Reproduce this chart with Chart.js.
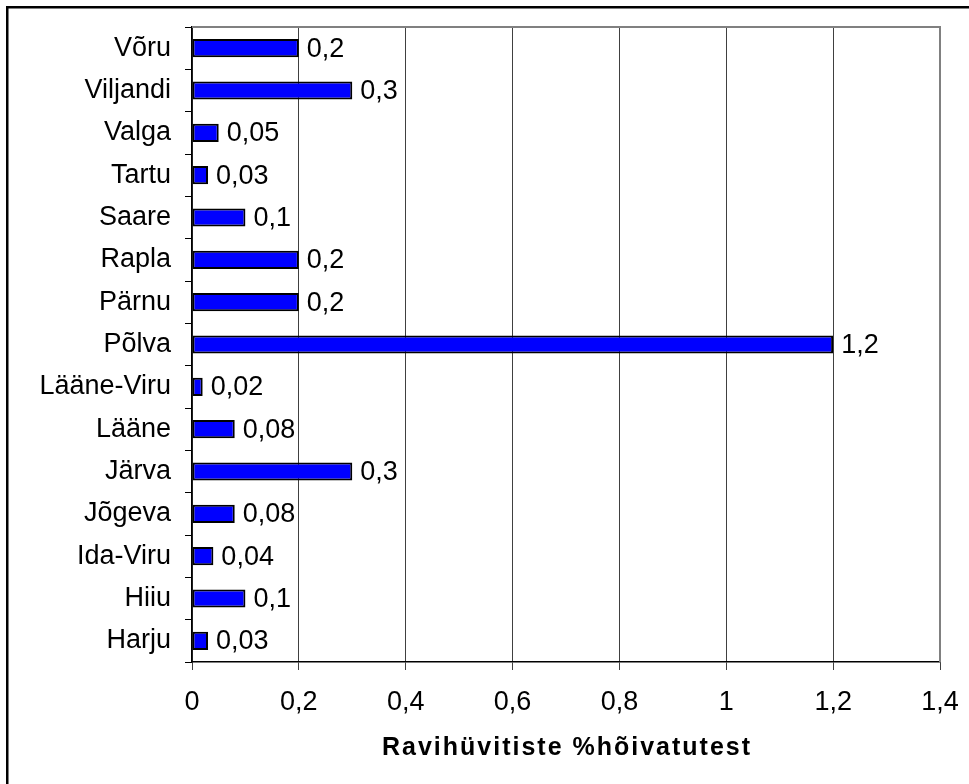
<!DOCTYPE html>
<html>
<head>
<meta charset="utf-8">
<script src="https://cdn.jsdelivr.net/npm/chart.js@4.4.0/dist/chart.umd.min.js"></script>
<style>
  html, body { margin: 0; padding: 0; background: #fff; }
  #wrap { position: relative; width: 969px; height: 784px; }
</style>
</head>
<body>
<div id="wrap"><canvas id="c"></canvas></div>
<script>
const categories = ['Võru', 'Viljandi', 'Valga', 'Tartu', 'Saare', 'Rapla', 'Pärnu', 'Põlva',
  'Lääne-Viru', 'Lääne', 'Järva', 'Jõgeva', 'Ida-Viru', 'Hiiu', 'Harju'];
const values = [0.2, 0.3, 0.05, 0.03, 0.1, 0.2, 0.2, 1.2, 0.02, 0.08, 0.3, 0.08, 0.04, 0.1, 0.03];
const tickLabels = ['0', '0,2', '0,4', '0,6', '0,8', '1', '1,2', '1,4'];
const axisTitle = 'Ravihüvitiste %hõivatutest';

const FONT = '"Liberation Sans", Arial, sans-serif';
const fmt = v => String(v).replace('.', ',');

const decor = {
  id: 'decor',
  beforeDraw(chart) {
    const ctx = chart.ctx;
    ctx.save();
    ctx.fillStyle = '#fff';
    ctx.fillRect(0, 0, chart.width, chart.height);
    ctx.restore();
  },
  afterDraw(chart) {
    const ctx = chart.ctx, a = chart.chartArea;
    ctx.save();
    // plot area top and right gray border
    ctx.strokeStyle = '#808080';
    ctx.lineWidth = 2;
    ctx.beginPath();
    ctx.moveTo(a.left, a.top);
    ctx.lineTo(a.right, a.top);
    ctx.lineTo(a.right, a.bottom);
    ctx.stroke();
    // data labels
    ctx.fillStyle = '#000';
    ctx.font = '27px ' + FONT;
    ctx.textBaseline = 'middle';
    ctx.textAlign = 'left';
    chart.getDatasetMeta(0).data.forEach((el, i) => {
      ctx.fillText(fmt(values[i]), el.x + 8, el.y + 1);
    });
    // axis title
    ctx.font = 'bold 25px ' + FONT;
    ctx.letterSpacing = '2px';
    ctx.textAlign = 'center';
    ctx.fillText(axisTitle, (a.left + a.right) / 2 + 1, 748);
    ctx.letterSpacing = '0px';
    // outer border
    ctx.strokeStyle = '#000';
    ctx.lineWidth = 2.5;
    ctx.strokeRect(7.25, 7.25, 2000, 2000);
    ctx.restore();
  }
};

new Chart(document.getElementById('c'), {
  type: 'bar',
  data: {
    labels: categories,
    datasets: [{
      data: values,
      backgroundColor: '#0000FF',
      borderColor: '#000',
      borderWidth: 2,
      borderSkipped: false,
      categoryPercentage: 1,
      barPercentage: 0.43
    }]
  },
  plugins: [decor],
  options: {
    indexAxis: 'y',
    responsive: true,
    maintainAspectRatio: false,
    animation: false,
    layout: { padding: { top: 27, right: 29, bottom: 0, left: 0 } },
    plugins: { legend: { display: false }, tooltip: { enabled: false } },
    scales: {
      x: {
        min: 0, max: 1.4,
        ticks: {
          stepSize: 0.2,
          color: '#000',
          font: { family: FONT, size: 27 },
          padding: 16,
          maxRotation: 0,
          callback: (v, i) => tickLabels[i]
        },
        grid: { color: '#404040', lineWidth: 1, tickLength: 8, drawTicks: true },
        border: { color: '#000', width: 1.5 },
        afterFit(s) { s.height = 122; s.paddingRight = 0; s.paddingLeft = 0; }
      },
      y: {
        ticks: {
          color: '#000',
          font: { family: FONT, size: 27 },
          padding: 14
        },
        grid: { drawOnChartArea: false, drawTicks: true, tickLength: 7, color: '#000', offset: true },
        border: { color: '#000', width: 1.5 },
        afterFit(s) { s.width = 192; s.paddingTop = 0; s.paddingBottom = 0; }
      }
    }
  }
});
</script>
</body>
</html>
